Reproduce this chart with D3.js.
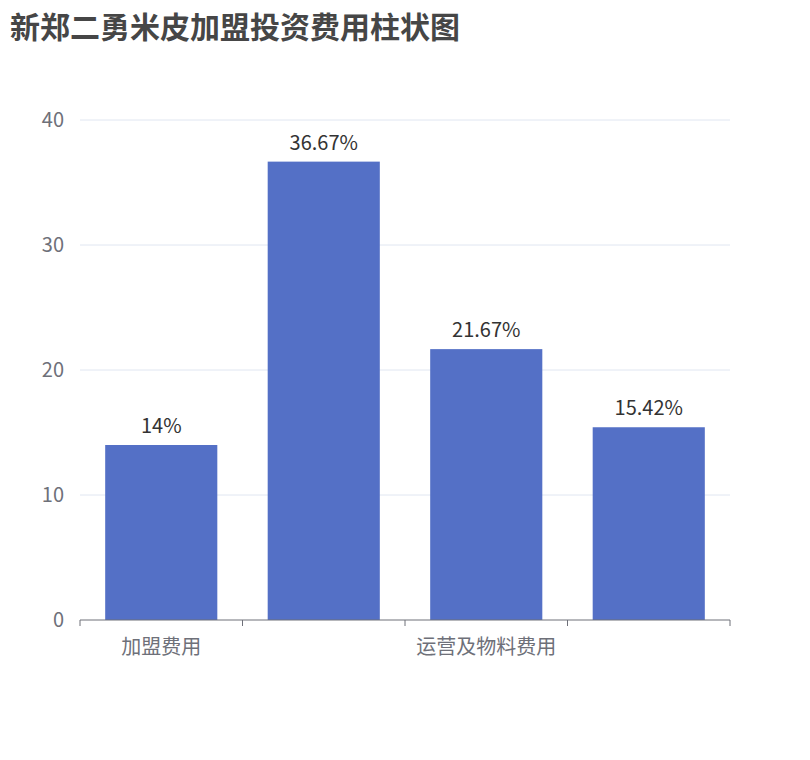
<!DOCTYPE html>
<html><head><meta charset="utf-8">
<script src="https://cdn.jsdelivr.net/npm/d3@7"></script>
<style>body{margin:0;background:#fff;font-family:"Noto Sans CJK SC","Noto Sans",sans-serif}</style>
</head><body><div id="chart"></div>
<script>
const categories = ["加盟费用", "装修及设备费用", "运营及物料费用", "其他费用"];
const values = [14, 36.67, 21.67, 15.42];
const labels = ["14%", "36.67%", "21.67%", "15.42%"];
const yTicks = [0, 10, 20, 30, 40];

const width = 810, height = 760;
const svg = d3.select("#chart").append("svg").attr("width", width).attr("height", height);

svg.append("text").attr("x", 10).attr("y", 38)
  .attr("font-size", 30).attr("font-weight", "bold").attr("fill", "#464646")
  .text("新郑二勇米皮加盟投资费用柱状图");

const x = d3.scaleBand().domain(categories).range([80, 730]).paddingInner(0.31).paddingOuter(0.155);
const y = d3.scaleLinear().domain([0, 40]).range([620, 120]);

svg.append("g").selectAll("line").data(yTicks.slice(1)).join("line")
  .attr("x1", 80).attr("x2", 730).attr("y1", d => y(d)).attr("y2", d => y(d))
  .attr("stroke", "#e0e6f1");

svg.append("g").selectAll("text").data(yTicks).join("text")
  .attr("x", 64).attr("y", d => y(d)).attr("dy", "0.35em").attr("text-anchor", "end")
  .attr("font-size", 20).attr("fill", "#6e7079").text(d => d);

svg.append("g").selectAll("rect").data(values).join("rect")
  .attr("x", (d, i) => x(categories[i])).attr("width", x.bandwidth())
  .attr("y", d => y(d)).attr("height", d => y(0) - y(d)).attr("fill", "#5470c6");

svg.append("g").selectAll("text").data(values).join("text")
  .attr("x", (d, i) => x(categories[i]) + x.bandwidth() / 2).attr("y", d => y(d) - 12)
  .attr("text-anchor", "middle").attr("font-size", 20).attr("fill", "#333")
  .text((d, i) => labels[i]);

svg.append("line").attr("x1", 80).attr("x2", 730).attr("y1", 620).attr("y2", 620).attr("stroke", "#6e7079");
const step = 650 / categories.length;
svg.append("g").selectAll("line").data(d3.range(categories.length + 1)).join("line")
  .attr("x1", i => 80 + i * step).attr("x2", i => 80 + i * step)
  .attr("y1", 620).attr("y2", 626).attr("stroke", "#6e7079");

svg.append("g").selectAll("text").data(categories.filter((c, i) => i % 2 === 0)).join("text")
  .attr("x", c => x(c) + x.bandwidth() / 2).attr("y", 654).attr("text-anchor", "middle")
  .attr("font-size", 20).attr("fill", "#6e7079").text(c => c);
</script></body></html>
